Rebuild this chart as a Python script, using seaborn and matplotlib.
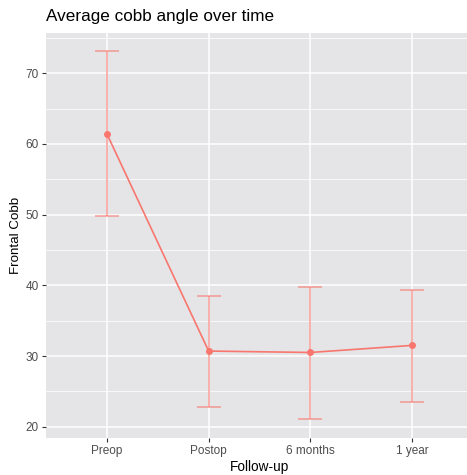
import numpy as np
import pandas as pd
import matplotlib
matplotlib.use("Agg")
import matplotlib.pyplot as plt
import seaborn as sns
from matplotlib.ticker import MultipleLocator

categories = ["Preop", "Postop", "6 months", "1 year"]
means = [61.4, 30.7, 30.5, 31.5]
upper = [73.1, 38.5, 39.8, 39.4]
lower = [49.8, 22.8, 21.1, 23.5]

sns.set_theme(style="darkgrid")
plt.rcParams["font.family"] = ["Liberation Sans", "DejaVu Sans"]

color = "#F8766D"
df = pd.DataFrame({"Follow-up": categories, "Frontal Cobb": means})

fig = plt.figure(figsize=(4.67, 4.75), dpi=100)
ax = fig.add_axes([46 / 467, 37 / 475, (473 - 46) / 467, (438 - 33) / 475])
ax.set_facecolor("#E5E5E7")

pos = np.arange(len(categories))
means_a = np.array(means)
ax.errorbar(pos, means_a, yerr=[means_a - np.array(lower), np.array(upper) - means_a],
            fmt="none", ecolor=color, alpha=0.7, elinewidth=1.1, capsize=8.7,
            capthick=1.1, zorder=3)
sns.lineplot(data=df, x="Follow-up", y="Frontal Cobb", sort=False, color=color,
             marker="o", markersize=5, markeredgewidth=0, linewidth=1.2, ax=ax,
             zorder=4)

ax.set_xlim(-0.6, len(categories) - 1 + 0.6)
ax.set_ylim(18.4, 75.7)
ax.set_xticks(pos)
ax.set_xticklabels(categories)
ax.yaxis.set_major_locator(MultipleLocator(10))
ax.yaxis.set_minor_locator(MultipleLocator(5))
ax.grid(which="major", color="white", linewidth=1.1)
ax.grid(which="minor", axis="y", color="white", linewidth=0.55)
ax.set_axisbelow(True)
for s in ax.spines.values():
    s.set_visible(False)
ax.tick_params(axis="both", which="major", length=3, width=0.8, color="#333333",
               labelcolor="#4D4D4D", labelsize=8.5, pad=2, bottom=True, left=True)
ax.tick_params(axis="both", which="minor", length=0)
ax.set_xlabel("Follow-up", fontsize=9.8, color="black", labelpad=2)
ax.set_ylabel("Frontal Cobb", fontsize=9.6, color="black", labelpad=3)
fig.text(46 / 467, 1 - 17 / 475, "Average cobb angle over time", fontsize=12.3,
         ha="left", va="center", color="black")

fig.savefig("out.png", dpi=100)
